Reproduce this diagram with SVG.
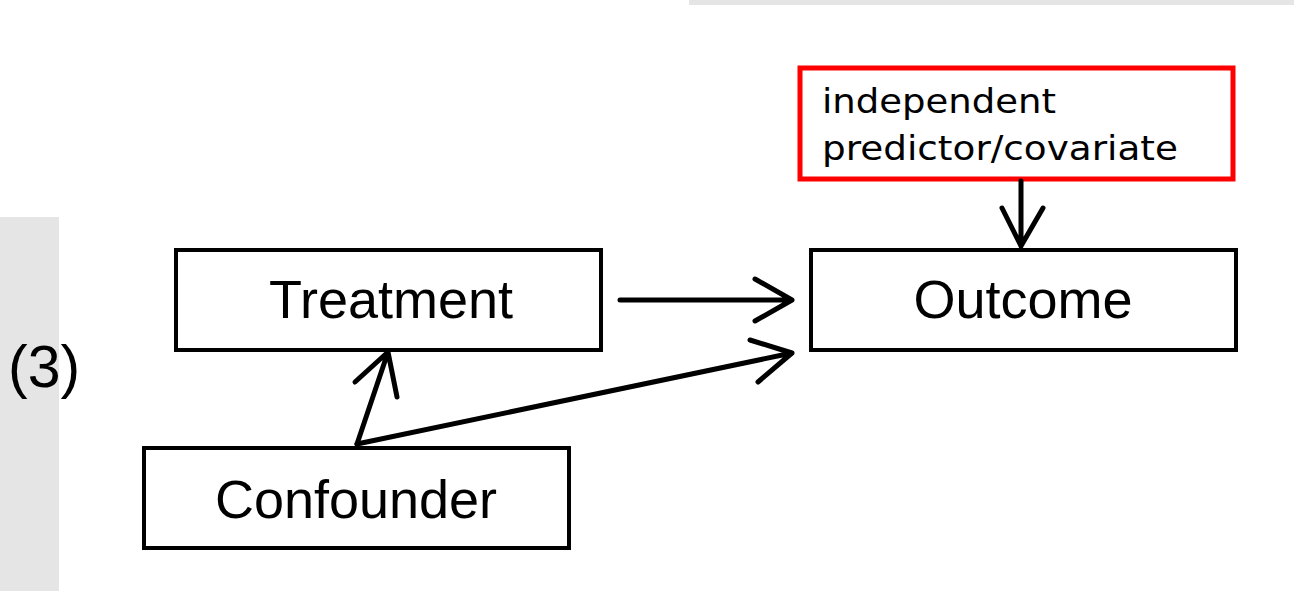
<svg xmlns="http://www.w3.org/2000/svg" width="1294" height="591" viewBox="0 0 1294 591">
<style>
.box{fill:#fff;stroke:#000;stroke-width:4}
.lbl{font-family:"Liberation Sans",Arial,sans-serif;font-size:54px;fill:#000;text-anchor:middle}
.cv{font-family:"DejaVu Sans",sans-serif;font-size:34px;fill:#000}
.ln{fill:none;stroke:#000;stroke-width:5;stroke-linecap:round;stroke-linejoin:round}
</style>
<rect x="0" y="0" width="1294" height="591" fill="#fff"/>
<rect x="0" y="217" width="59" height="374" fill="#e5e5e5"/>
<rect x="689" y="0" width="605" height="5" fill="#e5e5e5"/>
<text x="8" y="387" font-family="Liberation Sans,Arial,sans-serif" font-size="59" fill="#000">(3)</text>
<g id="treatment"><rect class="box" x="176" y="250" width="425" height="100"/><text class="lbl" x="391" y="318">Treatment</text></g>
<g id="outcome"><rect class="box" x="811" y="250" width="425" height="100"/><text class="lbl" x="1023" y="318">Outcome</text></g>
<g id="confounder"><rect class="box" x="144" y="448" width="425" height="100"/><text class="lbl" x="356" y="518">Confounder</text></g>
<g id="covariate"><rect x="800" y="68" width="433" height="111" fill="#fff" stroke="#f00" stroke-width="5"/>
<text class="cv" x="822" y="113" textLength="234" lengthAdjust="spacingAndGlyphs">independent</text><text class="cv" x="822" y="160" textLength="356" lengthAdjust="spacingAndGlyphs">predictor/covariate</text></g>
<g id="connectors">
<path class="ln" d="M620,300 L792,300 M755,279 L792,300 L755,321"/>
<path class="ln" d="M357,444 L388,352 M355,382 L388,352 L397,397"/>
<path class="ln" d="M357,444 L792,353 M750,340 L792,353 L758,382"/>
<path class="ln" d="M1021,181 L1021,246 M1002,208 L1021,246 L1043,208"/>
</g>
</svg>
